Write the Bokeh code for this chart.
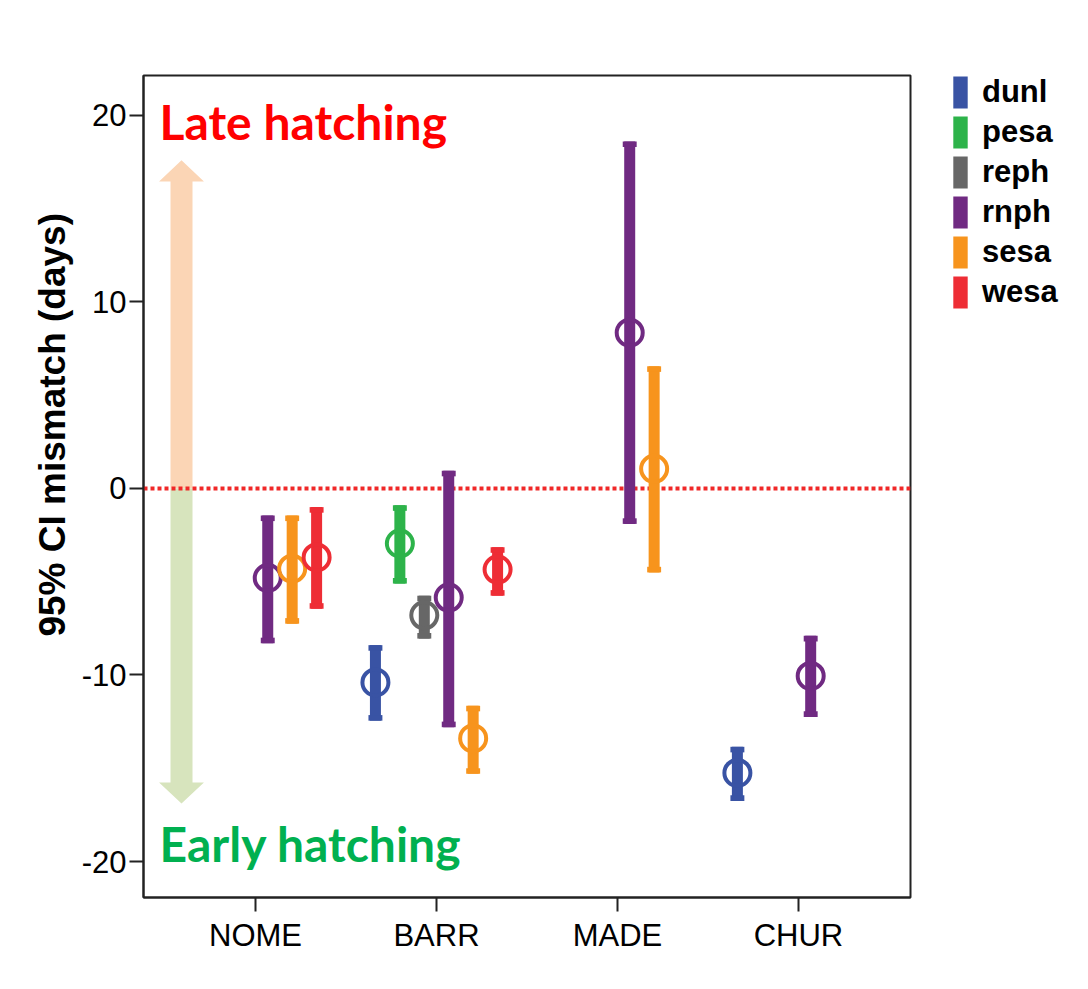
import math
from bokeh.plotting import figure
from bokeh.layouts import row
from bokeh.models import (Range1d, FixedTicker, Span, Label, Legend, LegendItem,
                          ColumnDataSource, CDSView, GroupFilter)
from bokeh.embed import file_html
from bokeh.resources import INLINE

# ---------------- data ----------------
sites = ["NOME", "BARR", "MADE", "CHUR"]
species = ["dunl", "pesa", "reph", "rnph", "sesa", "wesa"]
species_colors = ["#3953A4", "#2DB34A", "#676767", "#702A82", "#F7941D", "#EE2D35"]

row_site = ["NOME", "NOME", "NOME", "BARR", "BARR", "BARR", "BARR", "BARR", "BARR",
            "MADE", "MADE", "CHUR", "CHUR"]
row_species = ["rnph", "sesa", "wesa", "dunl", "pesa", "reph", "rnph", "sesa", "wesa",
               "rnph", "sesa", "dunl", "rnph"]
mean_mismatch = [-4.8, -4.3, -3.7, -10.4, -2.95, -6.8, -5.85, -13.4, -4.35,
                 8.35, 1.05, -15.25, -10.05]
ci_lower = [-8.3, -7.25, -6.45, -12.45, -5.1, -8.05, -12.8, -15.3, -5.75,
            -1.9, -4.5, -16.75, -12.25]
ci_upper = [-1.45, -1.45, -1.0, -8.4, -0.9, -5.75, 0.95, -11.65, -3.15,
            18.6, 6.55, -13.85, -7.9]
y_ticks = [-20, -10, 0, 10, 20]

# ---------------- main figure ----------------
W, H = 915, 973
FL, FT, FR, FB = 143, 75, 910, 897   # frame edges on the canvas
p = figure(width=W, height=H, output_backend="svg", toolbar_location=None,
           x_range=Range1d(0.381, 4.619), y_range=Range1d(-21.93, 22.14),
           min_border_left=FL, min_border_right=W - FR, min_border_top=FT,
           min_border_bottom=H - FB)
p.background_fill_color = "white"
p.border_fill_color = "white"
p.outline_line_color = "#222222"
p.outline_line_width = 2
p.xgrid.visible = False
p.ygrid.visible = False

for ax in (p.xaxis[0], p.yaxis[0]):
    ax.axis_line_color = "#222222"
    ax.axis_line_width = 2
    ax.major_tick_line_color = "#222222"
    ax.major_tick_line_width = 2
    ax.major_tick_out = 14
    ax.major_tick_in = 0
    ax.minor_tick_line_color = None
    ax.major_label_text_font = "Liberation Sans"
    ax.major_label_text_font_size = "31px"
    ax.major_label_text_color = "black"

p.xaxis.ticker = FixedTicker(ticks=[1, 2, 3, 4])
p.xaxis.major_label_overrides = {i + 1: s for i, s in enumerate(sites)}
p.xaxis.major_label_standoff = 6
p.yaxis.ticker = FixedTicker(ticks=y_ticks)
p.yaxis.major_label_overrides = {t: str(t) for t in y_ticks}
p.yaxis.major_label_standoff = 3
p.yaxis.axis_label = "\u00a0" * 12 + "95% CI mismatch (days)"
p.yaxis.axis_label_text_font = "Liberation Sans"
p.yaxis.axis_label_text_font_style = "bold"
p.yaxis.axis_label_text_font_size = "37px"
p.yaxis.axis_label_text_color = "black"
p.yaxis.axis_label_standoff = 6

# ---------------- background double arrow ----------------
ax_c = 0.591
sh, hh = 0.0608, 0.124
p.patches(xs=[[ax_c - sh, ax_c + sh, ax_c + sh, ax_c + hh, ax_c, ax_c - hh, ax_c - sh],
              [ax_c - sh, ax_c + sh, ax_c + sh, ax_c + hh, ax_c, ax_c - hh, ax_c - sh]],
          ys=[[0, 0, 16.46, 16.46, 17.59, 16.46, 16.46],
              [0, 0, -15.76, -15.76, -16.89, -15.76, -15.76]],
          fill_color=["#FBD5B5", "#D7E4BD"], line_color=None, level="underlay")

zero = Span(location=0, dimension="width", line_color="#F02828", line_width=4,
            line_dash="4 3", level="underlay")
p.add_layout(zero)

# ---------------- error bars ----------------
offset_step = 0.135
xs = [sites.index(s) + 1 + (species.index(sp) - 2.5) * offset_step
      for s, sp in zip(row_site, row_species)]
cols = [species_colors[species.index(sp)] for sp in row_species]
src = ColumnDataSource(dict(x=xs, mean=mean_mismatch, lo=ci_lower, hi=ci_upper,
                            lo_cap=[v + 0.3 for v in ci_lower],
                            hi_cap=[v - 0.3 for v in ci_upper], color=cols,
                            species=row_species))

p.vbar(x="x", top="hi", bottom="lo", width=0.0608, fill_color="color",
       line_color=None, source=src)
p.vbar(x="x", top="hi", bottom="hi_cap", width=0.077, fill_color="color",
       line_color=None, source=src)
p.vbar(x="x", top="lo_cap", bottom="lo", width=0.077, fill_color="color",
       line_color=None, source=src)
p.scatter(x="x", y="mean", marker="circle", size=26, fill_color=None,
          line_color="color", line_width=4, source=src)

# ---------------- texts ----------------
p.add_layout(Label(x=16, y=776, x_units="screen", y_units="screen",
                   text="Late hatching", text_font="Lato", text_font_style="bold",
                   text_font_size="48px", text_color="#FF0000",
                   text_baseline="alphabetic"))
p.add_layout(Label(x=16, y=54, x_units="screen", y_units="screen",
                   text="Early hatching", text_font="Lato", text_font_style="bold",
                   text_font_size="48px", text_color="#00B050",
                   text_baseline="alphabetic"))

# ---------------- legend (separate panel on the right) ----------------
LW = 1080 - W
lf = figure(width=LW, height=H, output_backend="svg", toolbar_location=None,
            x_axis_type=None, y_axis_type=None, min_border=0)
lf.outline_line_color = None
lf.background_fill_color = "white"
lf.border_fill_color = "white"
items = []
for sp, c in zip(species, species_colors):
    r = lf.rect(x="x", y="mean", width=0, height=0, fill_color=c, line_color=None,
                source=src, view=CDSView(filter=GroupFilter(column_name="species", group=sp)))
    items.append(LegendItem(label=sp, renderers=[r]))
legend = Legend(items=items, location=(36, 585), glyph_width=18, glyph_height=40,
                label_height=40, spacing=0, label_standoff=13, padding=0, margin=0,
                border_line_color=None, background_fill_alpha=0,
                label_text_font="Liberation Sans", label_text_font_style="bold",
                label_text_font_size="31px", label_text_color="black")
lf.add_layout(legend, "center")

layout = row(p, lf)
open("out.html", "w").write(file_html(layout, INLINE))
